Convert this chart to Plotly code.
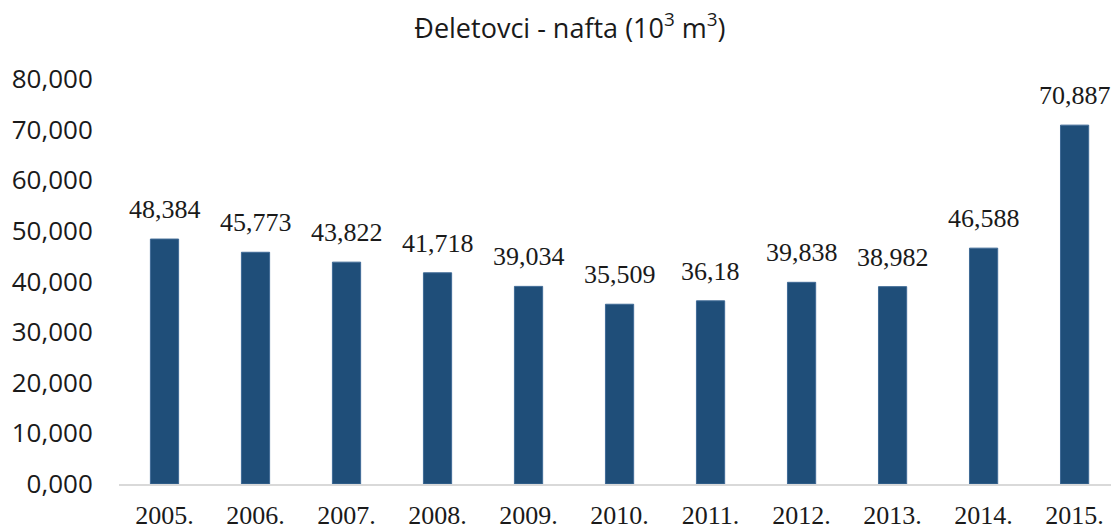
import plotly.graph_objects as go

# godine i proizvodnja nafte (10^3 m3)
godine = ["2005.", "2006.", "2007.", "2008.", "2009.", "2010.",
          "2011.", "2012.", "2013.", "2014.", "2015."]
nafta = [48.384, 45.773, 43.822, 41.718, 39.034, 35.509,
         36.18, 39.838, 38.982, 46.588, 70.887]
oznake = ["48,384", "45,773", "43,822", "41,718", "39,034", "35,509",
          "36,18", "39,838", "38,982", "46,588", "70,887"]
y_tickovi = [0, 10, 20, 30, 40, 50, 60, 70, 80]
y_oznake = ["0,000", "10,000", "20,000", "30,000", "40,000",
            "50,000", "60,000", "70,000", "80,000"]

fig = go.Figure()
fig.add_trace(go.Bar(
    x=list(range(len(godine))), y=nafta,
    marker=dict(color="#1f4e79", line=dict(color="#3f6a96", width=1)),
))

# oznake vrijednosti iznad stupaca
for i, (v, t) in enumerate(zip(nafta, oznake)):
    fig.add_annotation(x=i, y=v, xref="x", yref="y", text=t, showarrow=False,
                       yanchor="bottom", yshift=13,
                       font=dict(family="Liberation Serif", size=26, color="#1a1a1a"))

fig.update_layout(
    width=1111, height=530,
    margin=dict(l=119, r=0, t=79, b=46),
    paper_bgcolor="white", plot_bgcolor="white",
    bargap=0.69,
    showlegend=False,
    title=dict(text="Đeletovci - nafta (10<sup>3</sup> m<sup>3</sup>)",
               x=0.513, xanchor="center", y=0.947, yanchor="middle",
               font=dict(family="Open Sans", size=27, color="#1a1a1a")),
    xaxis=dict(range=[-0.5, 10.4],
               tickvals=list(range(len(godine))), ticktext=godine,
               showline=True, linecolor="#d9d9d9", linewidth=1.5,
               showgrid=False, zeroline=False,
               ticks="outside", ticklen=7, tickcolor="white",
               tickfont=dict(family="Liberation Serif", size=26, color="#1a1a1a")),
    yaxis=dict(range=[0, 80], tickvals=y_tickovi, ticktext=y_oznake,
               showgrid=False, zeroline=False, showline=False,
               ticks="outside", ticklen=20, tickcolor="white",
               tickfont=dict(family="Open Sans", size=26, color="#1a1a1a")),
)

fig.write_html("out.html", config={"displayModeBar": False},
               post_script="document.body.style.margin='0';")
